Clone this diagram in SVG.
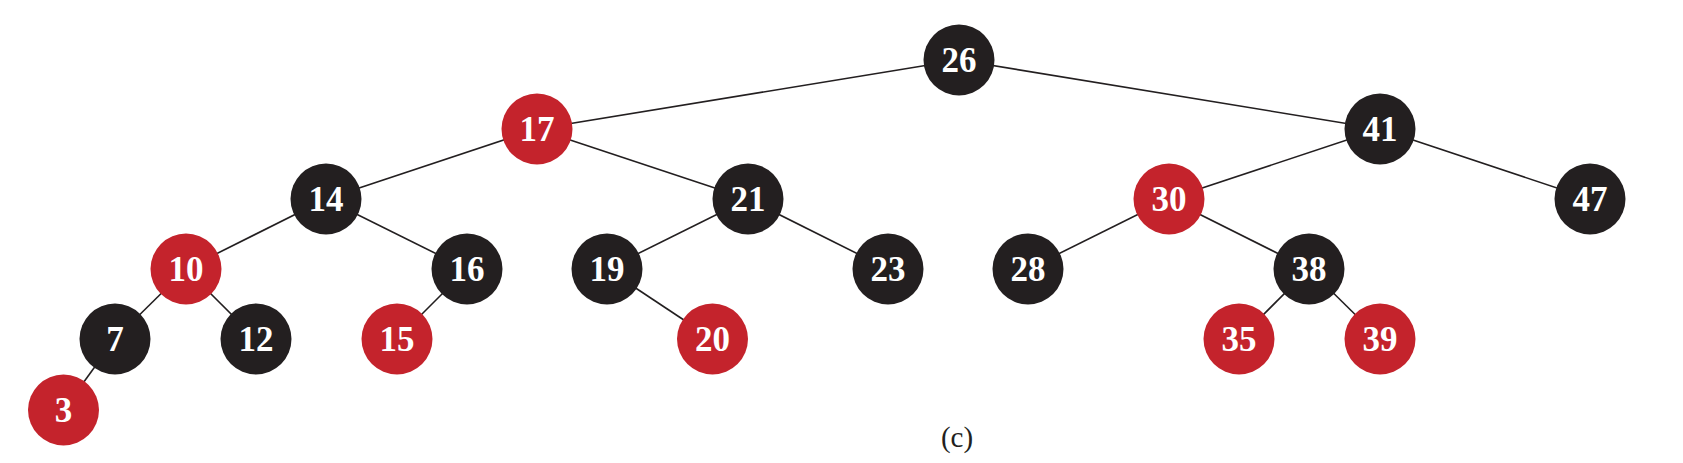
<svg xmlns="http://www.w3.org/2000/svg" width="1683" height="463" viewBox="0 0 1683 463">
<style>
.e line{stroke:#231f20;stroke-width:1.6}
.b circle{fill:#231f20}
.r circle{fill:#c4232c}
.n text{fill:#ffffff;font-family:"Liberation Serif",serif;font-weight:bold;font-size:35px;text-anchor:middle}
.cap{fill:#231f20;font-family:"Liberation Serif",serif;font-size:29px;text-anchor:middle}
</style>
<rect width="1683" height="463" fill="#ffffff"/>
<g id="edges" class="e">
<line x1="959" y1="60" x2="537" y2="129"/>
<line x1="959" y1="60" x2="1380" y2="129"/>
<line x1="537" y1="129" x2="326" y2="199"/>
<line x1="537" y1="129" x2="748" y2="199"/>
<line x1="1380" y1="129" x2="1169" y2="199"/>
<line x1="1380" y1="129" x2="1590" y2="199"/>
<line x1="326" y1="199" x2="186" y2="269"/>
<line x1="326" y1="199" x2="467" y2="269"/>
<line x1="748" y1="199" x2="607" y2="269"/>
<line x1="748" y1="199" x2="888" y2="269"/>
<line x1="1169" y1="199" x2="1028" y2="269"/>
<line x1="1169" y1="199" x2="1309" y2="269"/>
<line x1="186" y1="269" x2="115" y2="339"/>
<line x1="186" y1="269" x2="256" y2="339"/>
<line x1="467" y1="269" x2="397" y2="339"/>
<line x1="607" y1="269" x2="712.5" y2="339"/>
<line x1="1309" y1="269" x2="1239" y2="339"/>
<line x1="1309" y1="269" x2="1380" y2="339"/>
<line x1="115" y1="339" x2="63.5" y2="410"/>
</g>
<g id="n26" class="n b"><circle cx="959" cy="60" r="35.5"/><text x="959" y="72">26</text></g>
<g id="n17" class="n r"><circle cx="537" cy="129" r="35.5"/><text x="537" y="141">17</text></g>
<g id="n41" class="n b"><circle cx="1380" cy="129" r="35.5"/><text x="1380" y="141">41</text></g>
<g id="n14" class="n b"><circle cx="326" cy="199" r="35.5"/><text x="326" y="211">14</text></g>
<g id="n21" class="n b"><circle cx="748" cy="199" r="35.5"/><text x="748" y="211">21</text></g>
<g id="n30" class="n r"><circle cx="1169" cy="199" r="35.5"/><text x="1169" y="211">30</text></g>
<g id="n47" class="n b"><circle cx="1590" cy="199" r="35.5"/><text x="1590" y="211">47</text></g>
<g id="n10" class="n r"><circle cx="186" cy="269" r="35.5"/><text x="186" y="281">10</text></g>
<g id="n16" class="n b"><circle cx="467" cy="269" r="35.5"/><text x="467" y="281">16</text></g>
<g id="n19" class="n b"><circle cx="607" cy="269" r="35.5"/><text x="607" y="281">19</text></g>
<g id="n23" class="n b"><circle cx="888" cy="269" r="35.5"/><text x="888" y="281">23</text></g>
<g id="n28" class="n b"><circle cx="1028" cy="269" r="35.5"/><text x="1028" y="281">28</text></g>
<g id="n38" class="n b"><circle cx="1309" cy="269" r="35.5"/><text x="1309" y="281">38</text></g>
<g id="n7" class="n b"><circle cx="115" cy="339" r="35.5"/><text x="115" y="351">7</text></g>
<g id="n12" class="n b"><circle cx="256" cy="339" r="35.5"/><text x="256" y="351">12</text></g>
<g id="n15" class="n r"><circle cx="397" cy="339" r="35.5"/><text x="397" y="351">15</text></g>
<g id="n20" class="n r"><circle cx="712.5" cy="339" r="35.5"/><text x="712.5" y="351">20</text></g>
<g id="n35" class="n r"><circle cx="1239" cy="339" r="35.5"/><text x="1239" y="351">35</text></g>
<g id="n39" class="n r"><circle cx="1380" cy="339" r="35.5"/><text x="1380" y="351">39</text></g>
<g id="n3" class="n r"><circle cx="63.5" cy="410" r="35.5"/><text x="63.5" y="422">3</text></g>
<text class="cap" x="957" y="447">(c)</text>
</svg>
